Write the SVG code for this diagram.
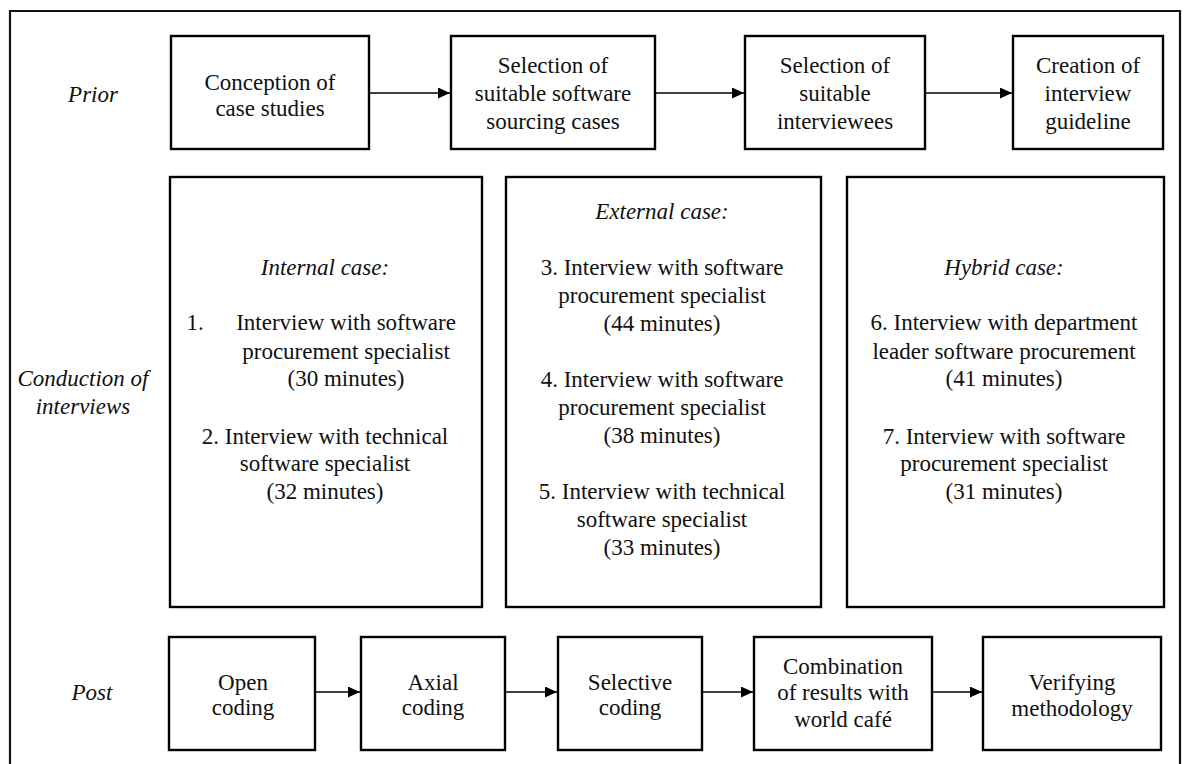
<svg xmlns="http://www.w3.org/2000/svg" width="1187" height="764" viewBox="0 0 1187 764">
  <style>
    .box { fill: #fff; stroke: #000; stroke-width: 2.4; }
    .frame { fill: none; stroke: #111; stroke-width: 2.2; }
    .t { font-family: "Liberation Serif", "Times New Roman", serif; font-size: 23px; fill: #111; text-anchor: middle; }
    .i { font-style: italic; }
    .edge { stroke: #000; stroke-width: 1.4; fill: none; marker-end: url(#arrow); }
  </style>
  <defs>
    <marker id="arrow" viewBox="0 0 12 11" refX="12" refY="5.5" markerWidth="12" markerHeight="11" markerUnits="userSpaceOnUse" orient="auto">
      <path d="M0,0 L12,5.5 L0,11 Z" fill="#000"/>
    </marker>
  </defs>
  <rect width="1187" height="764" fill="#fff"/>
  <!-- outer frame (open at the bottom) -->
  <path class="frame" d="M10,770 L10,11 L1180,11 L1180,770"/>

  <!-- phase labels -->
  <g id="label-prior"><text class="t i" x="93" y="102">Prior</text></g>
  <g id="label-conduction"><text class="t i" x="83" y="386">Conduction of</text><text class="t i" x="83" y="414">interviews</text></g>
  <g id="label-post"><text class="t i" x="92" y="700">Post</text></g>

  <!-- prior phase -->
  <g id="conception">
    <rect class="box" x="171" y="36" width="198" height="113"/>
    <text class="t" x="270" y="90">Conception of</text>
    <text class="t" x="270" y="116">case studies</text>
  </g>
  <g id="selection-cases">
    <rect class="box" x="451" y="36" width="204" height="113"/>
    <text class="t" x="553" y="73">Selection of</text>
    <text class="t" x="553" y="101">suitable software</text>
    <text class="t" x="553" y="129">sourcing cases</text>
  </g>
  <g id="selection-interviewees">
    <rect class="box" x="745" y="36" width="180" height="113"/>
    <text class="t" x="835" y="73">Selection of</text>
    <text class="t" x="835" y="101">suitable</text>
    <text class="t" x="835" y="129">interviewees</text>
  </g>
  <g id="guideline">
    <rect class="box" x="1013" y="36" width="150" height="113"/>
    <text class="t" x="1088" y="73">Creation of</text>
    <text class="t" x="1088" y="101">interview</text>
    <text class="t" x="1088" y="129">guideline</text>
  </g>

  <!-- interview cases -->
  <g id="internal-case">
    <rect class="box" x="170" y="177" width="312" height="430"/>
    <text class="t i" x="325" y="275">Internal case:</text>
    <text class="t" x="195" y="330" text-anchor="start">1.</text>
    <text class="t" x="346" y="330">Interview with software</text>
    <text class="t" x="346" y="359">procurement specialist</text>
    <text class="t" x="346" y="386">(30 minutes)</text>
    <text class="t" x="325" y="444">2. Interview with technical</text>
    <text class="t" x="325" y="471">software specialist</text>
    <text class="t" x="325" y="499">(32 minutes)</text>
  </g>
  <g id="external-case">
    <rect class="box" x="506" y="177" width="315" height="430"/>
    <text class="t i" x="662" y="219">External case:</text>
    <text class="t" x="662" y="275">3. Interview with software</text>
    <text class="t" x="662" y="303">procurement specialist</text>
    <text class="t" x="662" y="331">(44 minutes)</text>
    <text class="t" x="662" y="387">4. Interview with software</text>
    <text class="t" x="662" y="415">procurement specialist</text>
    <text class="t" x="662" y="443">(38 minutes)</text>
    <text class="t" x="662" y="499">5. Interview with technical</text>
    <text class="t" x="662" y="527">software specialist</text>
    <text class="t" x="662" y="555">(33 minutes)</text>
  </g>
  <g id="hybrid-case">
    <rect class="box" x="847" y="177" width="317" height="430"/>
    <text class="t i" x="1004" y="275">Hybrid case:</text>
    <text class="t" x="1004" y="330">6. Interview with department</text>
    <text class="t" x="1004" y="359">leader software procurement</text>
    <text class="t" x="1004" y="386">(41 minutes)</text>
    <text class="t" x="1004" y="444">7. Interview with software</text>
    <text class="t" x="1004" y="471">procurement specialist</text>
    <text class="t" x="1004" y="499">(31 minutes)</text>
  </g>

  <!-- post phase -->
  <g id="open-coding">
    <rect class="box" x="169" y="637" width="146" height="113"/>
    <text class="t" x="243" y="690">Open</text>
    <text class="t" x="243" y="715">coding</text>
  </g>
  <g id="axial-coding">
    <rect class="box" x="361" y="637" width="144" height="113"/>
    <text class="t" x="433" y="690">Axial</text>
    <text class="t" x="433" y="715">coding</text>
  </g>
  <g id="selective-coding">
    <rect class="box" x="558" y="637" width="144" height="113"/>
    <text class="t" x="630" y="690">Selective</text>
    <text class="t" x="630" y="715">coding</text>
  </g>
  <g id="world-cafe">
    <rect class="box" x="754" y="637" width="178" height="113"/>
    <text class="t" x="843" y="674">Combination</text>
    <text class="t" x="843" y="700">of results with</text>
    <text class="t" x="843" y="727">world café</text>
  </g>
  <g id="verifying">
    <rect class="box" x="983" y="637" width="178" height="113"/>
    <text class="t" x="1072" y="690">Verifying</text>
    <text class="t" x="1072" y="716">methodology</text>
  </g>

  <!-- connectors -->
  <g id="connectors">
    <line class="edge" x1="370" y1="93" x2="450" y2="93"/>
    <line class="edge" x1="656" y1="93" x2="744" y2="93"/>
    <line class="edge" x1="926" y1="93" x2="1012" y2="93"/>
    <line class="edge" x1="316" y1="692" x2="360" y2="692"/>
    <line class="edge" x1="506" y1="692" x2="557" y2="692"/>
    <line class="edge" x1="703" y1="692" x2="753" y2="692"/>
    <line class="edge" x1="933" y1="692" x2="982" y2="692"/>
  </g>
</svg>
